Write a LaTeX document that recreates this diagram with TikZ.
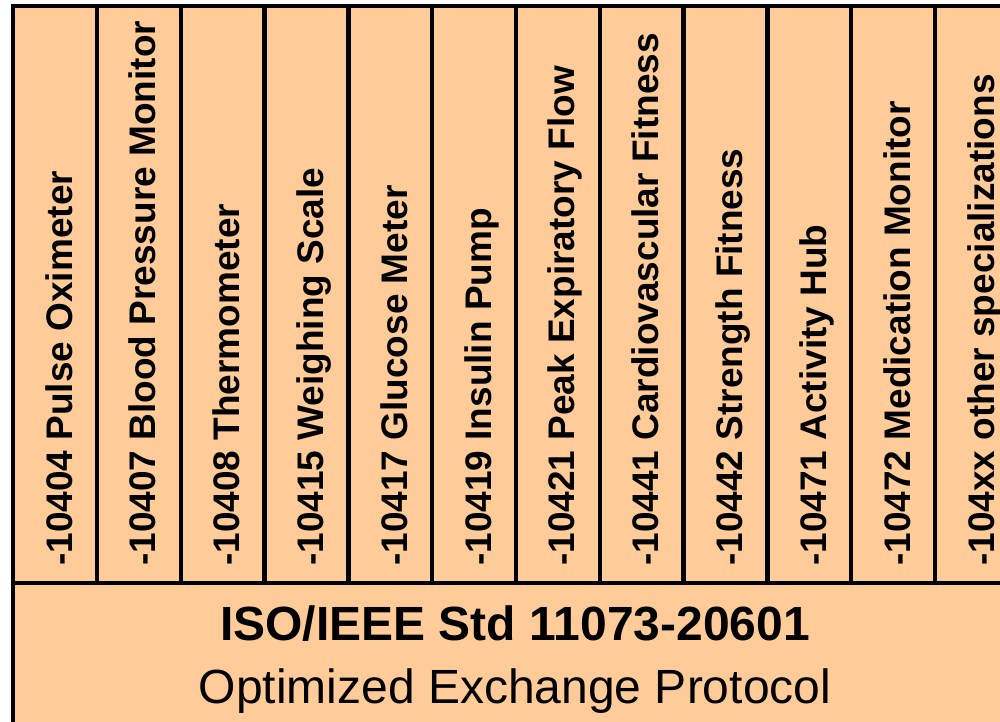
\documentclass[tikz,border=0pt]{standalone}
\usepackage{fontspec}
\setmainfont{Liberation Sans}
\usetikzlibrary{positioning}
\definecolor{peach}{RGB}{255,204,153}
\tikzset{
    frame/.style={draw=black, line width=4.5pt},
    spec/.style={font=\fontsize{37}{40}\selectfont\bfseries, anchor=base west,
        rotate=90, inner sep=0pt},
    stdtitle/.style={font=\fontsize{48}{52}\selectfont\bfseries, anchor=base, inner sep=0pt},
    stdsub/.style={font=\fontsize{48}{52}\selectfont, anchor=base, inner sep=0pt},
}

\begin{document}
\begin{tikzpicture}[x=1pt, y=-1pt]
\clip (0,0) rectangle (1000,721);
\fill[white] (0,0) rectangle (1000,721);
% outer box and rows
\draw[frame, fill=peach] (13,6) rectangle (1019,760);
\draw[frame] (13,583) -- (1019,583);
% column separators
\draw[frame] (97,6) -- (97,583);
\draw[frame] (180.8,6) -- (180.8,583);
\draw[frame] (264.6,6) -- (264.6,583);
\draw[frame] (348.4,6) -- (348.4,583);
\draw[frame] (432.2,6) -- (432.2,583);
\draw[frame] (516,6) -- (516,583);
\draw[frame] (599.8,6) -- (599.8,583);
\draw[frame] (683.6,6) -- (683.6,583);
\draw[frame] (767.4,6) -- (767.4,583);
\draw[frame] (851.2,6) -- (851.2,583);
\draw[frame] (935,6) -- (935,583);
% device specializations
\node[spec] (pox) at (72,566) {-10404 Pulse Oximeter};
\node[spec] (bpm) at (155.8,566) {-10407 Blood Pressure Monitor};
\node[spec] (thm) at (239.6,566) {-10408 Thermometer};
\node[spec] (wgs) at (323.4,566) {-10415 Weighing Scale};
\node[spec] (glu) at (407.2,566) {-10417 Glucose Meter};
\node[spec] (ins) at (491,566) {-10419 Insulin Pump};
\node[spec] (pef) at (574.8,566) {-10421 Peak Expiratory Flow};
\node[spec] (cvf) at (658.6,566) {-10441 Cardiovascular Fitness};
\node[spec] (stf) at (742.4,566) {-10442 Strength Fitness};
\node[spec] (ahb) at (826.2,566) {-10471 Activity Hub};
\node[spec] (med) at (910,566) {-10472 Medication Monitor};
\node[spec] (oth) at (994,566) {-104xx other specializations};
% base standard
\node[stdtitle] (std) at (515,640) {ISO/IEEE Std 11073-20601};
\node[stdsub] (oxp) at (515,703) {Optimized Exchange Protocol};
\end{tikzpicture}
\end{document}
